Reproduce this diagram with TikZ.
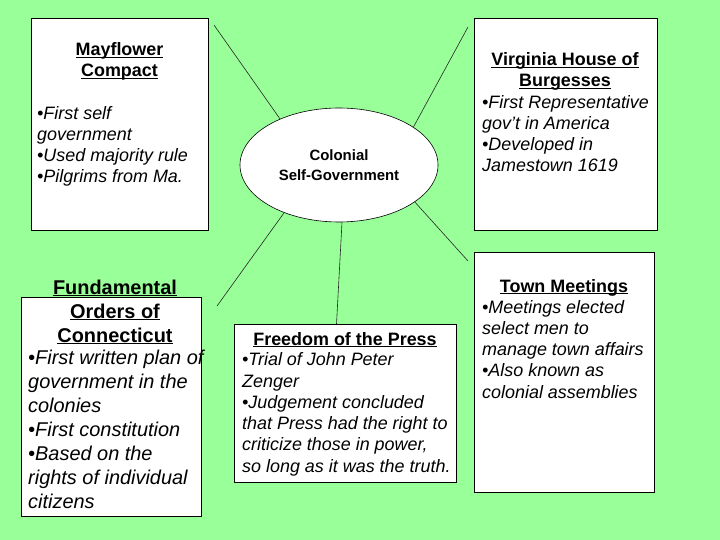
\documentclass[tikz,border=0pt]{standalone}
\usepackage{fontspec}
\setmainfont{Liberation Sans}
\usetikzlibrary{shapes.geometric}
\definecolor{bg}{RGB}{153,255,153}
\newcommand\ulhead[1]{\underline{\smash{#1}}}
\begin{document}
\begin{tikzpicture}[x=1bp,y=-1bp,
  box/.style={draw=black, line width=1bp, fill=white, inner sep=0pt, anchor=north west},
  title/.style={font=\fontsize{18}{21.3}\selectfont\bfseries, align=center, anchor=base, inner sep=0pt},
  body/.style={font=\fontsize{18}{21.3}\selectfont\itshape, align=left, anchor=base west, inner sep=0pt},
  bigtitle/.style={title, font=\fontsize{20}{24}\selectfont\bfseries},
  bigbody/.style={body, font=\fontsize{20}{24}\selectfont\itshape},
  conn/.style={draw=black!85, line width=0.6bp}]
\fill[bg] (0,0) rectangle (720,540);
\useasboundingbox (0,0) rectangle (720,540);

% boxes
\node[box, minimum width=177bp, minimum height=212bp] (mf) at (31,18) {};
\node[box, minimum width=183bp, minimum height=212bp] (vh) at (474,18) {};
\node[box, minimum width=180bp, minimum height=219bp] (fo) at (21,297) {};
\node[box, minimum width=222bp, minimum height=158bp] (fp) at (234,324) {};
\node[box, minimum width=180bp, minimum height=240bp] (tm) at (474,252) {};

% centre ellipse
\node[ellipse, draw=black, line width=0.6bp, fill=white, minimum width=198bp, minimum height=114bp,
      inner sep=0pt, align=center, font=\fontsize{15}{20}\selectfont\bfseries] (cg) at (339,165)
      {Colonial\\Self-Government};

% free ends of connectors
\coordinate (c1) at (214,25);
\coordinate (c2) at (468,27);
\coordinate (c3) at (217,306);
\coordinate (c5) at (468,261);

\draw[conn] (cg.142) -- (c1);
\draw[conn] (cg.27.5) -- (c2);
\draw[conn] (cg.221) -- (c3);
\draw[conn] (cg.273) -- ([xshift=-9bp]fp.north);
\draw[conn] (cg.334) -- (c5);

% texts (anchor = baseline of the last line)
\node[title] (mft) at (119.5,77) {\ulhead{Mayflower}\\\ulhead{Compact}};
\node[body] (mfb) at (37,183) {•First self\\government\\•Used majority rule\\•Pilgrims from Ma.};

\node[title] (vht) at (565,87) {\ulhead{Virginia House of}\\\ulhead{Burgesses}};
\node[body] (vhb) at (482,172) {•First Representative\\gov’t in America\\•Developed in\\Jamestown 1619};

\node[bigtitle] (fot) at (115,342) {\ulhead{Fundamental}\\\ulhead{Orders of}\\\ulhead{Connecticut}};
\node[bigbody] (fob) at (28,508) {•First written plan of\\government in the\\colonies\\•First constitution\\•Based on the\\rights of individual\\citizens};

\node[title] (fpt) at (345,345) {\ulhead{Freedom of the Press}};
\node[body] (fpb) at (242,472) {•Trial of John Peter\\Zenger\\•Judgement concluded\\that Press had the right to\\criticize those in power,\\so long as it was the truth.};

\node[title] (tmt) at (564,292) {\ulhead{Town Meetings}};
\node[body] (tmb) at (482,398) {•Meetings elected\\select men to\\manage town affairs\\•Also known as\\colonial assemblies};
\end{tikzpicture}
\end{document}
